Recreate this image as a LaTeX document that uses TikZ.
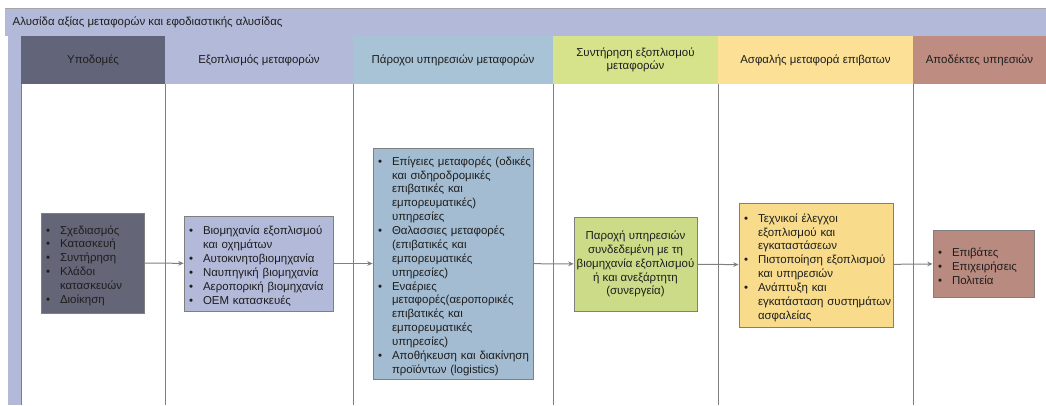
\documentclass[tikz,border=0pt]{standalone}
\usepackage{fontspec}
\setmainfont{Liberation Sans}
\usetikzlibrary{arrows.meta}
\definecolor{barlav}{HTML}{B3B9D9}
\definecolor{slate}{HTML}{62657A}
\definecolor{skyblue}{HTML}{A8C3D6}
\definecolor{lime}{HTML}{D7E38A}
\definecolor{sand}{HTML}{FBE095}
\definecolor{clay}{HTML}{BE8C80}
\definecolor{boxslate}{HTML}{646678}
\definecolor{boxblue}{HTML}{A3BCD2}
\definecolor{boxlime}{HTML}{CCDB88}
\definecolor{boxsand}{HTML}{F8DC8C}
\definecolor{boxclay}{HTML}{B98A7F}
\definecolor{edge}{HTML}{7F7F7F}
\definecolor{ink}{HTML}{1E1E1E}

\newenvironment{blist}{\list{\textbullet}{\setlength\leftmargin{10.5pt}%
  \setlength\rightmargin{-30pt}%
  \setlength\labelwidth{3pt}\setlength\labelsep{7.5pt}\setlength\itemsep{0pt}%
  \setlength\parsep{0pt}\setlength\topsep{0pt}\setlength\partopsep{0pt}}}{\endlist}

\tikzset{
  hdr/.style={minimum height=36pt, inner sep=0pt, align=center, text=ink,
    font=\fontsize{8.6}{10.2}\selectfont},
  card/.style={draw=edge, line width=0.6pt, inner xsep=3.75pt, inner ysep=2pt,
    align=left, text=ink, font=\fontsize{8.6}{10.4}\selectfont},
  flow/.style={edge, line width=0.75pt, -{Stealth[length=4pt,width=3.5pt]}}
}

\begin{document}
\begin{tikzpicture}[x=0.75pt,y=-0.75pt]
  \useasboundingbox (0,0) rectangle (1046,405);
  \fill[barlav] (5,8) rectangle (1046,36);
  \draw[edge!70] (5,8) -- (1046,8);
  \fill[barlav] (8,36) rectangle (21,405);
  \node[anchor=west, text=ink, font=\fontsize{8.6}{10}\selectfont] (title) at (8,22)
    {Αλυσίδα αξίας μεταφορών και εφοδιαστικής αλυσίδας};

  \node[hdr, fill=slate, minimum width=108pt] (hinfra) at (93,60) {Υποδομές};
  \node[hdr, fill=barlav, minimum width=141pt] (hequip) at (259,60) {Εξοπλισμός μεταφορών};
  \node[hdr, fill=skyblue, minimum width=150pt] (hprov) at (453,60) {Πάροχοι υπηρεσιών μεταφορών};
  \node[hdr, fill=lime, minimum width=123.75pt] (hmaint) at (635.5,60) {Συντήρηση εξοπλισμού\\μεταφορών};
  \node[hdr, fill=sand, minimum width=146.25pt] (hsafe) at (815.5,60) {Ασφαλής μεταφορά επιβατων};
  \node[hdr, fill=clay, minimum width=99.75pt] (hrecv) at (979.5,60) {Αποδέκτες υπηεσιών};

  \foreach \x in {21,165,353,553,718,913}
    \draw[edge] (\x,84) -- (\x,405);

  \node[card, fill=boxslate, minimum height=75pt, text width=69.75pt] (infra) at (92.5,263)
    {\begin{blist}
      \item Σχεδιασμός
      \item Κατασκευή
      \item Συντήρηση
      \item Κλάδοι\newline κατασκευών
      \item Διοίκηση
    \end{blist}};
  \node[card, fill=barlav, minimum height=71.25pt, text width=104.25pt] (equip) at (258.5,263.5)
    {\begin{blist}
      \item Βιομηχανία εξοπλισμού\newline και οχημάτων
      \item Αυτοκινητοβιομηχανία
      \item Ναυπηγική βιομηχανία
      \item Αεροπορική βιομηχανία
      \item OEM κατασκευές
    \end{blist}};
  \node[card, fill=boxblue, minimum height=173.25pt, text width=112.5pt] (prov) at (453,263.5)
    {\begin{blist}
      \item Επίγειες μεταφορές (οδικές\newline και σιδηροδρομικές\newline επιβατικές και\newline
        εμπορευματικές)\newline υπηρεσίες
      \item Θαλασσιες μεταφορές\newline (επιβατικές και\newline εμπορευματικές\newline υπηρεσίες)
      \item Εναέριες\newline μεταφορές(αεροπορικές\newline επιβατικές και\newline
        εμπορευματικές\newline υπηρεσίες)
      \item Αποθήκευση και διακίνηση\newline προϊόντων (logistics)
    \end{blist}};
  \node[card, fill=boxlime, align=center, inner xsep=0.5pt, minimum width=92.25pt,
    minimum height=70.5pt] (maint) at (635.5,264)
    {Παροχή υπηρεσιών\\συνδεδεμένη με τη\\βιομηχανία εξοπλισμού\\ή και ανεξάρτητη\\(συνεργεία)};
  \node[card, fill=boxsand, minimum height=93pt, text width=108pt] (safe) at (816,265)
    {\begin{blist}
      \item Τεχνικοί έλεγχοι\newline εξοπλισμού και\newline εγκαταστάσεων
      \item Πιστοποίηση εξοπλισμού\newline και υπηρεσιών
      \item Ανάπτυξη και\newline εγκατάσταση συστημάτων\newline ασφαλείας
    \end{blist}};
  \node[card, fill=boxclay, minimum height=50.25pt, text width=68.25pt] (recv) at (983.5,263.5)
    {\begin{blist}
      \item Επιβάτες
      \item Επιχειρήσεις
      \item Πολιτεία
    \end{blist}};

  \draw[flow] (infra) -- (equip);
  \draw[flow] (equip) -- (prov);
  \draw[flow] (prov) -- (maint);
  \draw[flow] (maint) -- (safe);
  \draw[flow] (safe) -- (recv);
\end{tikzpicture}
\end{document}
